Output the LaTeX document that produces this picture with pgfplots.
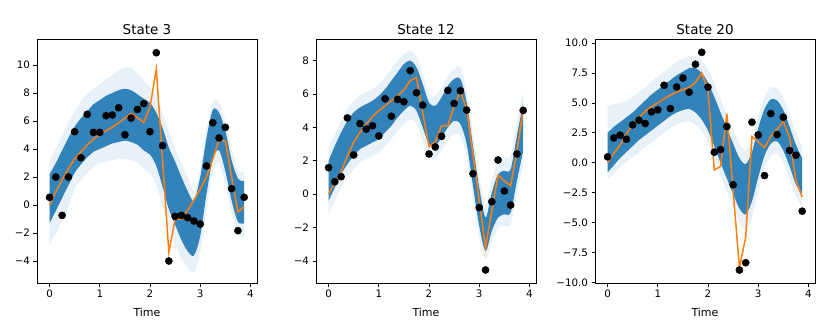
\documentclass[border=0pt]{standalone}
\usepackage{fontspec}
\setmainfont{DejaVu Sans}
\usepackage{pgfplots}
\usepackage{pgfplotstable}
\pgfplotsset{compat=1.18}
\usepgfplotslibrary{fillbetween}
\definecolor{cBlue}{HTML}{1F77B4}
\definecolor{cOrange}{HTML}{FF7F0E}

% t: time, lc/uc: dense band, lo/uo: faint band, d: observations, m: orange line
\pgfplotstableread{
t     lc    uc    lo    uo    d      m
0     -1.3  2.2   -2.8  3.2   0.55   0.0
0.125 -0.4  3.0   -2.0  4.0   2.0    0.95
0.25  0.5   3.9   -1.1  5.0   -0.74  1.8
0.375 1.4   4.8   -0.2  5.9   2.0    2.6
0.5   2.3   5.6   1.2   6.7   5.24   3.3
0.625 2.9   6.2   1.8   7.4   3.38   3.8
0.75  3.4   6.7   2.3   7.9   6.48   4.3
0.875 3.8   7.2   2.7   8.3   5.19   4.7
1.0   4.0   7.5   3.0   8.6   5.19   5.05
1.125 4.2   7.8   3.1   9.0   6.38   5.3
1.25  4.4   8.0   3.2   9.3   6.43   5.57
1.375 4.5   8.2   3.3   9.6   6.95   5.86
1.5   4.6   8.3   3.3   9.8   5.02   6.2
1.625 4.5   8.2   3.2   9.8   6.21   6.55
1.75  4.3   7.9   3.0   9.4   6.83   6.24
1.875 3.9   7.6   2.6   8.9   7.24   5.9
2.0   3.6   7.3   2.3   8.4   5.24   7.0
2.125 2.8   6.6   1.5   7.8   10.88  9.7
2.25  1.3   5.5   -0.1  6.6   4.24   3.2
2.375 -0.3  4.1   -1.6  5.2   -4.0   -3.38
2.5   -1.4  3.1   -2.8  4.0   -0.81  -1.0
2.625 -2.5  2.0   -3.8  3.0   -0.74  -1.02
2.75  -3.3  1.0   -4.5  2.0   -0.9   -0.36
2.875 -3.6  0.3   -4.8  1.0   -1.14  0.35
3.0   -2.2  2.0   -3.4  2.6   -1.36  1.15
3.125 0.8   4.8   -0.4  5.4   2.79   2.0
3.25  3.3   6.8   2.4   7.4   5.88   3.3
3.375 3.9   6.6   3.0   7.3   4.79   4.64
3.5   2.4   5.3   1.4   6.0   5.55   4.57
3.625 0.3   3.2   -0.6  4.0   1.17   2.0
3.75  -1.2  1.9   -2.0  2.5   -1.83  -0.5
3.875 -1.3  1.7   -2.4  2.4   0.55   -0.12
}\stateA

\pgfplotstableread{
t     lc    uc    lo    uo    d      m
0     -0.4  2.0   -1.2  2.8   1.59   0.0
0.125 0.4   2.9   -0.4  3.6   0.75   0.7
0.25  1.2   3.7   0.4   4.4   1.05   1.35
0.375 1.8   4.4   1.0   5.1   4.57   2.3
0.5   2.3   4.9   1.5   5.6   2.35   3.1
0.625 2.7   5.2   1.9   5.9   4.23   3.7
0.75  2.9   5.4   2.1   6.1   3.9    4.2
0.875 3.1   5.6   2.3   6.3   4.1    4.65
1.0   3.3   5.9   2.5   6.6   3.49   5.0
1.125 3.7   6.3   2.9   7.0   5.72   5.3
1.25  4.1   6.8   3.3   7.5   4.67   5.6
1.375 4.6   7.3   3.8   8.0   5.68   5.9
1.5   5.0   7.8   4.2   8.4   5.54   6.25
1.625 5.3   8.0   4.5   8.6   7.4    6.8
1.75  5.0   7.6   4.2   8.2   6.08   7.0
1.875 4.0   6.6   3.2   7.2   5.34   4.9
2.0   3.0   5.5   2.2   6.0   2.41   2.85
2.125 2.9   5.3   2.1   5.9   2.83   3.15
2.25  3.4   5.8   2.6   6.4   3.47   4.1
2.375 4.0   6.5   3.2   7.1   6.22   4.1
2.5   4.4   6.9   3.6   7.5   5.44   5.3
2.625 4.2   6.9   3.5   7.6   6.2    6.15
2.75  3.0   5.5   2.2   6.2   5.04   5.1
2.875 0.5   2.9   -0.3  3.6   1.23   2.4
3.0   -1.9  0.4   -2.6  1.1   -0.8   -0.4
3.125 -3.4  -1.4  -3.9  -0.6  -4.54  -3.2
3.25  -2.2  0.1   -2.9  0.8   -0.45  -1.0
3.375 -1.4  1.2   -2.0  2.0   2.05   1.15
3.5   -1.2  1.4   -1.9  2.2   0.19   0.8
3.625 -1.1  1.5   -1.8  2.3   -0.65  0.5
3.75  0.8   3.5   0.0   4.3   2.41   2.6
3.875 2.6   5.5   1.8   6.2   5.02   5.05
}\stateB

\pgfplotstableread{
t     lc    uc    lo    uo    d      m
0     -0.8  2.5   -1.4  4.8   0.5    0.0
0.125 -0.2  3.0   -0.9  4.9   2.08   0.8
0.25  0.4   3.4   -0.4  5.0   2.31   1.5
0.375 0.9   3.8   0.1   5.2   1.97   2.4
0.5   1.4   4.2   0.5   5.5   3.17   3.2
0.625 1.9   4.7   0.9   5.9   3.56   3.8
0.75  2.3   5.2   1.3   6.3   3.28   4.3
0.875 2.7   5.7   1.7   6.8   4.25   4.7
1.0   3.1   6.1   2.1   7.2   4.42   5.0
1.125 3.5   6.5   2.5   7.6   6.47   5.35
1.25  3.9   6.9   2.9   8.0   4.53   5.65
1.375 4.2   7.3   3.2   8.4   6.33   5.9
1.5   4.4   7.6   3.4   8.7   7.08   6.1
1.625 4.5   7.9   3.5   8.9   5.89   6.3
1.75  4.2   7.9   3.2   8.9   8.22   6.7
1.875 3.6   7.5   2.6   8.5   9.22   7.5
2.0   2.7   6.7   1.7   7.8   6.31   6.0
2.125 1.4   5.5   0.4   6.6   0.89   -0.6
2.25  0.0   4.2   -1.0  5.3   1.11   -0.3
2.375 -1.3  2.9   -2.4  4.0   3.03   4.1
2.5   -2.6  1.6   -3.7  2.8   -1.83  -2.3
2.625 -3.8  0.4   -4.9  1.6   -8.94  -8.75
2.75  -4.3  -0.1  -5.6  1.0   -8.33  -6.2
2.875 -3.2  0.9   -4.5  2.0   3.39   2.2
3.0   -1.2  2.9   -2.4  4.0   2.33   1.75
3.125 0.6   4.5   -0.5  5.5   -1.06  1.25
3.25  1.6   5.3   0.6   6.3   4.11   2.2
3.375 1.8   5.2   0.8   6.2   2.36   2.8
3.5   1.0   4.4   0.0   5.4   3.81   3.45
3.625 -0.3  3.0   -1.3  4.0   1.03   2.1
3.75  -1.8  1.5   -2.8  2.5   0.64   -1.5
3.875 -2.6  0.4   -3.6  1.4   -4.03  -2.85
}\stateC

\pgfplotsset{
  statepanel/.style={
    scale only axis, width=220pt, height=244pt,
    anchor=south west,
    xmin=-0.25, xmax=4.13,
    xtick={0,1,2,3,4}, xticklabels={0,1,2,3,4},
    axis line style={line width=0.8pt},
    tick align=outside, xtick pos=bottom, ytick pos=left,
    major tick length=3.5pt,
    tick style={black, line width=0.8pt},
    tick label style={font=\fontsize{10.3}{12}\selectfont},
    xlabel={Time}, xlabel style={font=\fontsize{11}{13}\selectfont, yshift=-3pt},
    title style={font=\fontsize{13.5}{16}\selectfont, yshift=-5pt},
  },
}

\newcommand{\stateplot}[2]{%
  \addplot[draw=none, smooth, name path=uo#2] table[x=t, y=uo]{#1};
  \addplot[draw=none, smooth, name path=lo#2] table[x=t, y=lo]{#1};
  \addplot[cBlue, fill opacity=0.1, draw=none] fill between[of=uo#2 and lo#2];
  \addplot[draw=none, smooth, name path=uc#2] table[x=t, y=uc]{#1};
  \addplot[draw=none, smooth, name path=lc#2] table[x=t, y=lc]{#1};
  \addplot[cBlue, fill opacity=0.9, draw=none] fill between[of=uc#2 and lc#2];
  \addplot[only marks, mark=*, mark size=3.6pt, black] table[x=t, y=d]{#1};
  \addplot[cOrange, line width=1.5pt] table[x=t, y=m]{#1};
}

\begin{document}
\begin{tikzpicture}
\begin{axis}[statepanel, at={(0pt,0pt)}, title={State 3},
  ymin=-5.57, ymax=11.86,
  ytick={-4,-2,0,2,4,6,8,10},
  yticklabels={−4,−2,0,2,4,6,8,10}]
\stateplot{\stateA}{a}
\end{axis}

\begin{axis}[statepanel, at={(279pt,0pt)}, title={State 12},
  ymin=-5.32, ymax=9.3,
  ytick={-4,-2,0,2,4,6,8},
  yticklabels={−4,−2,0,2,4,6,8}]
\stateplot{\stateB}{b}
\end{axis}

\begin{axis}[statepanel, at={(558pt,0pt)}, title={State 20},
  ymin=-10.02, ymax=10.33,
  ytick={-10,-7.5,-5,-2.5,0,2.5,5,7.5,10},
  yticklabels={−10.0,−7.5,−5.0,−2.5,0.0,2.5,5.0,7.5,10.0}]
\stateplot{\stateC}{c}
\end{axis}
\path (-37pt,-49pt) rectangle (793pt,283pt);
\end{tikzpicture}
\end{document}
